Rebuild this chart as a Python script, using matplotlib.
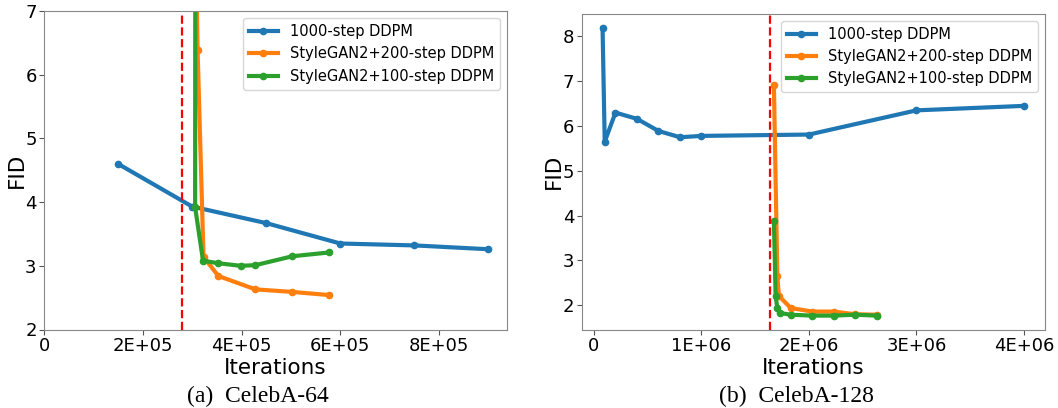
import matplotlib
matplotlib.use('Agg')
import matplotlib.pyplot as plt

# CelebA-64
a_ddpm_x = [150000, 300000, 450000, 600000, 750000, 900000]
a_ddpm_y = [4.60, 3.93, 3.67, 3.35, 3.32, 3.26]
a_200_x = [305000, 311000, 323000, 353000, 428000, 503000, 578000]
a_200_y = [9.0, 6.38, 3.14, 2.84, 2.63, 2.59, 2.54]
a_100_x = [307000, 306000, 322000, 353000, 398000, 428000, 503000, 578000]
a_100_y = [15.0, 3.92, 3.08, 3.04, 3.00, 3.01, 3.15, 3.21]
a_switch = 280000
a_xticks = [0, 200000, 400000, 600000, 800000]
a_xticklabels = ['0', '2E+05', '4E+05', '6E+05', '8E+05']
a_yticks = [2, 3, 4, 5, 6, 7]

# CelebA-128
b_ddpm_x = [80000, 100000, 200000, 400000, 600000, 800000, 1000000,
            2000000, 3000000, 4000000]
b_ddpm_y = [8.19, 5.65, 6.30, 6.16, 5.89, 5.75, 5.78, 5.81, 6.35, 6.45]
b_200_x = [1674000, 1706000, 1720000, 1830000, 2030000, 2230000,
           2430000, 2630000]
b_200_y = [6.92, 2.66, 2.21, 1.94, 1.86, 1.86, 1.80, 1.79]
b_100_x = [1674000, 1690000, 1706000, 1727000, 1830000, 2030000,
           2230000, 2430000, 2630000]
b_100_y = [3.87, 2.20, 1.94, 1.83, 1.79, 1.77, 1.77, 1.79, 1.77]
b_switch = 1635000
b_xticks = [0, 1000000, 2000000, 3000000, 4000000]
b_xticklabels = ['0', '1E+06', '2E+06', '3E+06', '4E+06']
b_yticks = [2, 3, 4, 5, 6, 7, 8]

labels = ['1000-step DDPM', 'StyleGAN2+200-step DDPM',
          'StyleGAN2+100-step DDPM']
colors = ['#1f77b4', '#ff7f0e', '#2ca02c']

W, H = 1058, 408
fig = plt.figure(figsize=(W / 100, H / 100), dpi=100)


def px_axes(x0, x1, y0, y1):
    return fig.add_axes([x0 / W, 1 - y1 / H, (x1 - x0) / W, (y1 - y0) / H])


def draw(ax, series, switch, xticks, xticklabels, yticks):
    for (xs, ys), lab, c in zip(series, labels, colors):
        ax.plot(xs, ys, color=c, lw=3, marker='o', ms=4.5, label=lab)
    ax.axvline(switch, color='red', ls='--', lw=1.6)
    ax.set_xticks(xticks)
    ax.set_xticklabels(xticklabels)
    ax.set_yticks(yticks)
    ax.tick_params(labelsize=13, color='#555555', pad=1.8)
    ax.set_xlabel('Iterations', fontsize=15.5, labelpad=2)
    ax.set_ylabel('FID', fontsize=15.5, labelpad=-1)
    for s in ax.spines.values():
        s.set_color('#888888')
    ax.legend(loc='upper right', fontsize=10.5)


ax1 = px_axes(44, 507, 11, 329.5)
draw(ax1, [(a_ddpm_x, a_ddpm_y), (a_200_x, a_200_y), (a_100_x, a_100_y)],
     a_switch, a_xticks, a_xticklabels, a_yticks)
ax1.set_ylim(2, 7)
ax1.set_xlim(left=0)

ax2 = px_axes(581.5, 1045, 13.5, 330)
draw(ax2, [(b_ddpm_x, b_ddpm_y), (b_200_x, b_200_y), (b_100_x, b_100_y)],
     b_switch, b_xticks, b_xticklabels, b_yticks)

fig.text(258 / W, 1 - 396 / H, '(a)  CelebA-64', ha='center', va='center',
         family='Liberation Serif', fontsize=17)
fig.text(796 / W, 1 - 396 / H, '(b)  CelebA-128', ha='center', va='center',
         family='Liberation Serif', fontsize=17)

fig.savefig('out.png', dpi=100)
